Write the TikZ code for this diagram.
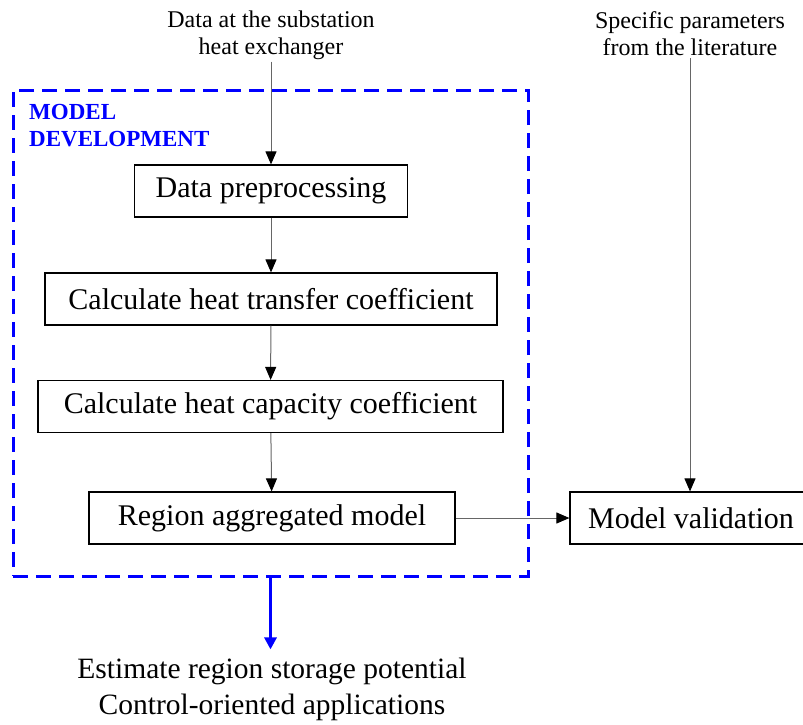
\documentclass[tikz,border=0pt]{standalone}
\usepackage{fontspec}
\setmainfont{Liberation Serif}
\usetikzlibrary{arrows.meta,positioning}

\begin{document}
\begin{tikzpicture}[x=1pt, y=-1pt,
      stepbox/.style={draw, line width=1.2pt, minimum height=52pt, inner sep=0pt,
                      font=\fontsize{30}{34}\selectfont},
      flow/.style={draw=black!60, line width=1pt,
                   -{Triangle[length=13pt, width=11pt, color=black]}},
      src/.style={align=center, inner sep=2pt, font=\fontsize{24}{27}\selectfont}]
      \useasboundingbox (0, 0) rectangle (803, 724);
      % inputs
      \node (data) [src] at (271, 35) {Data at the substation\\heat exchanger};
      \node (lit) [src] at (690, 34) {Specific parameters\\from the literature};
      % model development frame
      \node (devbox) [draw=blue, line width=3pt, dash pattern=on 15pt off 8pt,
                      minimum width=515pt, minimum height=486pt, inner sep=0pt] at (270.5, 333) {};
      \node (devlabel) [anchor=north west, align=left, text=blue, inner sep=0pt,
                        font=\fontsize{23}{27}\selectfont\bfseries] at (29, 104) {MODEL\\DEVELOPMENT};
      % steps
      \node (prep) [stepbox, minimum width=273pt] at (271, 191) {Data preprocessing};
      \node (transfer) [stepbox, minimum width=452pt] at (271, 299) {Calculate heat transfer coefficient};
      \node (capacity) [stepbox, minimum width=465pt] at (270.5, 406.5) {Calculate heat capacity coefficient};
      \node (region) [stepbox, minimum width=366pt] at (272, 518) {Region aggregated model};
      \node (valid) [stepbox, minimum width=242pt] at (691, 518) {Model validation};
      % output
      \node (apps) [align=center, inner sep=0pt, font=\fontsize{29.5}{36}\selectfont] at (272, 689)
            {Estimate region storage potential\\Control-oriented applications};
      \draw[flow] (data) -- (prep);
      \draw[flow] (prep) -- (transfer);
      \draw[flow] (transfer) -- (capacity);
      \draw[flow] (capacity) -- (region);
      \draw[flow] (region) -- (valid);
      \draw[flow] (lit.south) -- (lit.south |- valid.north);
      \draw[blue, line width=3pt, -{Triangle[length=12pt, width=12pt]}, shorten >=8pt]
            (devbox.south) -- (devbox.south |- apps.north);
\end{tikzpicture}
\end{document}
